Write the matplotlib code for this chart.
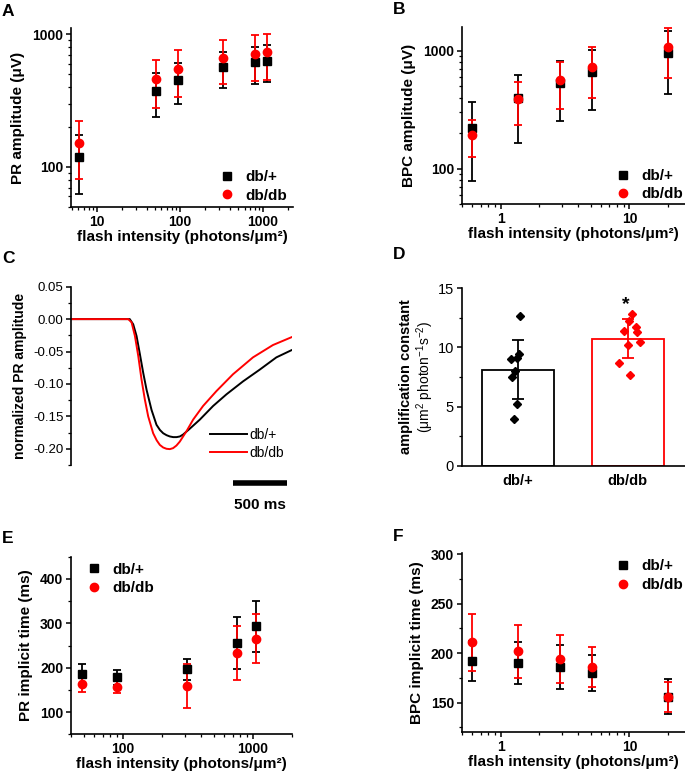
import numpy as np
import matplotlib
matplotlib.use('Agg')
import matplotlib.pyplot as plt
from matplotlib.ticker import FuncFormatter, MultipleLocator, NullFormatter, LogLocator

plt.rcParams['font.family'] = ['Liberation Sans', 'DejaVu Sans']
plt.rcParams['mathtext.fontset'] = 'custom'
plt.rcParams['mathtext.rm'] = 'Liberation Sans'
plt.rcParams['mathtext.it'] = 'Liberation Sans:italic'
plt.rcParams['mathtext.bf'] = 'Liberation Sans:bold'

# A: photoreceptor amplitude
pr_int = [6.2, 51, 96, 330, 810, 1120]
pr_amp_het = [119, 375, 450, 567, 612, 627]
pr_sd_het = [56, 137, 154, 171, 190, 194]
pr_amp_db = [152, 456, 546, 663, 708, 728]
pr_sd_db = [71, 177, 208, 240, 267, 280]

# B: bipolar cell amplitude
bpc_int = [0.6, 1.36, 2.9, 5.1, 19.9]
bpc_amp_het = [223, 396, 535, 663, 950]
bpc_sd_het = [144, 230, 282, 347, 520]
bpc_amp_db = [192, 389, 564, 731, 1069]
bpc_sd_db = [67, 154, 243, 335, 480]

# C: normalized PR traces (time in ms)
t_het = [0, 100, 200, 300, 400, 500, 545, 577, 608, 639, 670, 701, 747, 793, 825, 855,
         886, 917, 948, 979, 1010, 1040, 1102, 1195, 1318, 1442, 1596, 1750, 1905, 2044]
v_het = [0, 0, 0, 0, 0, 0, 0, -0.008, -0.026, -0.054, -0.083, -0.109, -0.140, -0.163, -0.171, -0.176,
         -0.179, -0.181, -0.182, -0.182, -0.181, -0.178, -0.169, -0.155, -0.134, -0.116, -0.096, -0.078, -0.059, -0.048]
t_db = [0, 100, 200, 300, 400, 500, 531, 562, 593, 624, 654, 685, 716, 762, 795, 824,
        855, 886, 917, 947, 978, 1009, 1071, 1133, 1225, 1349, 1503, 1688, 1873, 2044]
v_db = [0, 0, 0, 0, 0, 0, 0, -0.005, -0.026, -0.057, -0.093, -0.124, -0.150, -0.176, -0.187, -0.194,
        -0.198, -0.200, -0.2005, -0.199, -0.195, -0.189, -0.173, -0.155, -0.134, -0.111, -0.085, -0.059, -0.040, -0.028]
scalebar_ms = 500

# D: amplification constant
groups = ['db/+', 'db/db']
amp_mean = [8.1, 10.75]
amp_sd = [2.5, 1.67]
amp_het_x = [1.018, 0.936, 0.988, 1.009, 0.973, 0.943, 0.991, 0.961]
amp_het = [12.65, 9.02, 9.08, 9.42, 8.0, 7.47, 5.24, 3.92]
amp_db_x = [2.04, 2.012, 2.07, 1.964, 2.079, 2.106, 2.003, 1.918, 2.018]
amp_db = [12.82, 12.26, 11.75, 11.41, 11.33, 10.48, 10.2, 8.66, 7.67]

# E: PR implicit time
pr_it_int = [49, 91, 313, 755, 1050]
pr_it_het = [186, 178, 196, 256, 293]
pr_it_sd_het = [23, 17, 23, 58, 58]
pr_it_db = [163, 156, 159, 233, 265]
pr_it_sd_db = [18, 14, 49, 61, 55]

# F: BPC implicit time
bpc_it_het = [192, 190, 186, 180, 156]
bpc_it_sd_het = [20.5, 21.5, 22.5, 18.3, 18]
bpc_it_db = [211, 202, 194, 186, 156]
bpc_it_sd_db = [29, 27, 24, 20, 15]

W, H = 685, 772
fig = plt.figure(figsize=(W / 100, H / 100), dpi=100)


def box(l, t, r, b):
    return [l / W, 1 - b / H, (r - l) / W, (b - t) / H]


def style(ax, bold=True, size=10):
    for s in ['top', 'right']:
        ax.spines[s].set_visible(False)
    for s in ['left', 'bottom']:
        ax.spines[s].set_linewidth(1.2)
    ax.tick_params(which='major', direction='out', length=3.5, width=1.1, labelsize=size, pad=2)
    ax.tick_params(which='minor', direction='out', length=2, width=0.9)
    if bold:
        for lbl in ax.get_xticklabels() + ax.get_yticklabels():
            lbl.set_fontweight('bold')


def plain(v, pos):
    return f'{v:g}'


def scatter_pair(ax, x, y1, e1, y2, e2):
    ax.errorbar(x, y1, yerr=e1, fmt='s', color='k', ms=5.5, elinewidth=1.3, capsize=2.8,
                capthick=1.3, label='db/+')
    ax.errorbar(x, y2, yerr=e2, fmt='o', color='#ff0000', ms=6, elinewidth=1.3, capsize=2.8,
                capthick=1.3, label='db/db')


def log_x(ax, lo, hi):
    ax.set_xscale('log')
    ax.set_xlim(lo, hi)
    ax.xaxis.set_major_formatter(FuncFormatter(plain))
    ax.xaxis.set_minor_formatter(NullFormatter())


def leg(ax, loc, anchor):
    h, l = ax.get_legend_handles_labels()
    h = [x[0] for x in h]
    ax.legend(h, l, loc=loc, bbox_to_anchor=anchor, frameon=False, handletextpad=0.7,
              prop={'weight': 'bold', 'size': 11}, borderaxespad=0, labelspacing=0.3,
              handlelength=1.0)


xlab = 'flash intensity (photons/μm²)'
lab_kw = dict(fontsize=11, fontweight='bold')

# ---- A
ax = fig.add_axes(box(71, 28, 293, 207))
scatter_pair(ax, pr_int, pr_amp_het, pr_sd_het, pr_amp_db, pr_sd_db)
log_x(ax, 4.9, 2300)
ax.set_yscale('log')
ax.set_ylim(50, 1110)
ax.yaxis.set_major_formatter(FuncFormatter(plain))
ax.yaxis.set_minor_formatter(NullFormatter())
ax.set_xlabel(xlab, labelpad=1, **lab_kw)
ax.set_ylabel('PR amplitude (μV)', labelpad=5, **lab_kw)
style(ax)
leg(ax, 'lower right', (1.0, -0.01))

# ---- B
ax = fig.add_axes(box(461.7, 26.7, 685, 204))
scatter_pair(ax, bpc_int, bpc_amp_het, bpc_sd_het, bpc_amp_db, bpc_sd_db)
log_x(ax, 0.5, 27)
ax.set_yscale('log')
ax.set_ylim(50, 1600)
ax.yaxis.set_major_formatter(FuncFormatter(plain))
ax.yaxis.set_minor_formatter(NullFormatter())
ax.set_xlabel(xlab, labelpad=1, **lab_kw)
ax.set_ylabel('BPC amplitude (μV)', labelpad=5, **lab_kw)
style(ax)
leg(ax, 'lower right', (1.02, -0.02))

# ---- C
ax = fig.add_axes(box(71, 286.7, 292, 465))
ax.plot(t_het, v_het, color='k', lw=1.4, label='db/+')
ax.plot(t_db, v_db, color='#ff0000', lw=1.4, label='db/db')
ax.set_xlim(0, 2050)
ax.set_ylim(-0.225, 0.05)
ax.yaxis.set_major_locator(MultipleLocator(0.05))
ax.yaxis.set_minor_locator(MultipleLocator(0.025))
ax.yaxis.set_major_formatter(FuncFormatter(lambda v, p: f'{v:.2f}'))
ax.spines['bottom'].set_visible(False)
ax.set_xticks([])
ax.set_ylabel('normalized PR amplitude', fontsize=10, fontweight='bold', labelpad=4)
style(ax, bold=False, size=9.5)
ax.legend(loc='lower right', bbox_to_anchor=(1.02, -0.04), frameon=False, fontsize=10,
          handlelength=2.6, handletextpad=0.2, labelspacing=0.25)
ax.plot([2000 - scalebar_ms, 2000], [-0.2526, -0.2526], color='k', lw=4, solid_capstyle='butt',
        clip_on=False)
ax.text(1750, -0.287, f'{scalebar_ms} ms', ha='center', va='center', fontsize=11,
        fontweight='bold')

# ---- D
ax = fig.add_axes(box(461.7, 288.3, 685, 465.7))
xs = [1, 2]
ax.bar(xs, amp_mean, width=0.65, color='white', edgecolor=['k', '#ff0000'], linewidth=1.3)
ax.errorbar([1], [amp_mean[0]], yerr=[amp_sd[0]], fmt='none', ecolor='k', elinewidth=1.3,
            capsize=4, capthick=1.3)
ax.errorbar([2], [amp_mean[1]], yerr=[amp_sd[1]], fmt='none', ecolor='#ff0000', elinewidth=1.3,
            capsize=4, capthick=1.3)
ax.plot(amp_het_x, amp_het, 'D', color='k', ms=4.4)
ax.plot(amp_db_x, amp_db, 'D', color='#ff0000', ms=4.4)
ax.text(1.98, 13.6, '*', ha='center', va='center', fontsize=14, fontweight='bold')
ax.set_xlim(0.488, 2.52)
ax.set_ylim(0, 15)
ax.set_xticks(xs)
ax.set_xticklabels(groups)
ax.yaxis.set_major_locator(MultipleLocator(5))
ax.yaxis.set_minor_locator(MultipleLocator(2.5))
style(ax, bold=False, size=10.5)
for lbl in ax.get_xticklabels():
    lbl.set_fontweight('bold')
ax.tick_params(axis='x', length=0, pad=6)
ax.text(-0.25, 0.5, 'amplification constant', transform=ax.transAxes, rotation=90,
        ha='center', va='center', fontsize=10.5, fontweight='bold')
ax.text(-0.163, 0.5, r'(μm$^2$ photon$^{-1}$s$^{-2}$)', transform=ax.transAxes,
        rotation=90, ha='center', va='center', fontsize=10)

# ---- E
ax = fig.add_axes(box(71, 556.7, 292.3, 734.3))
scatter_pair(ax, pr_it_int, pr_it_het, pr_it_sd_het, pr_it_db, pr_it_sd_db)
log_x(ax, 40, 2000)
ax.set_ylim(50, 450)
ax.yaxis.set_major_locator(MultipleLocator(100))
ax.yaxis.set_minor_locator(MultipleLocator(50))
ax.set_xlabel(xlab, labelpad=1, **lab_kw)
ax.set_ylabel('PR implicit time (ms)', labelpad=5, **lab_kw)
style(ax)
leg(ax, 'upper left', (0.04, 1.0))

# ---- F
ax = fig.add_axes(box(461.7, 553.3, 685, 732.3))
scatter_pair(ax, bpc_int, bpc_it_het, bpc_it_sd_het, bpc_it_db, bpc_it_sd_db)
log_x(ax, 0.5, 27)
ax.set_ylim(120, 301)
ax.yaxis.set_major_locator(MultipleLocator(50))
ax.yaxis.set_minor_locator(MultipleLocator(25))
ax.set_xlabel(xlab, labelpad=1, **lab_kw)
ax.set_ylabel('BPC implicit time (ms)', labelpad=5, **lab_kw)
style(ax)
leg(ax, 'upper right', (1.02, 1.0))

for letter, x, y in [('A', 2, 4), ('B', 393, 2), ('C', 2, 251), ('D', 393, 247),
                     ('E', 2, 531), ('F', 393, 529)]:
    fig.text(x / W, 1 - y / H, letter, fontsize=12.5, fontweight='bold', ha='left', va='top')

fig.savefig('out.png', dpi=100)
